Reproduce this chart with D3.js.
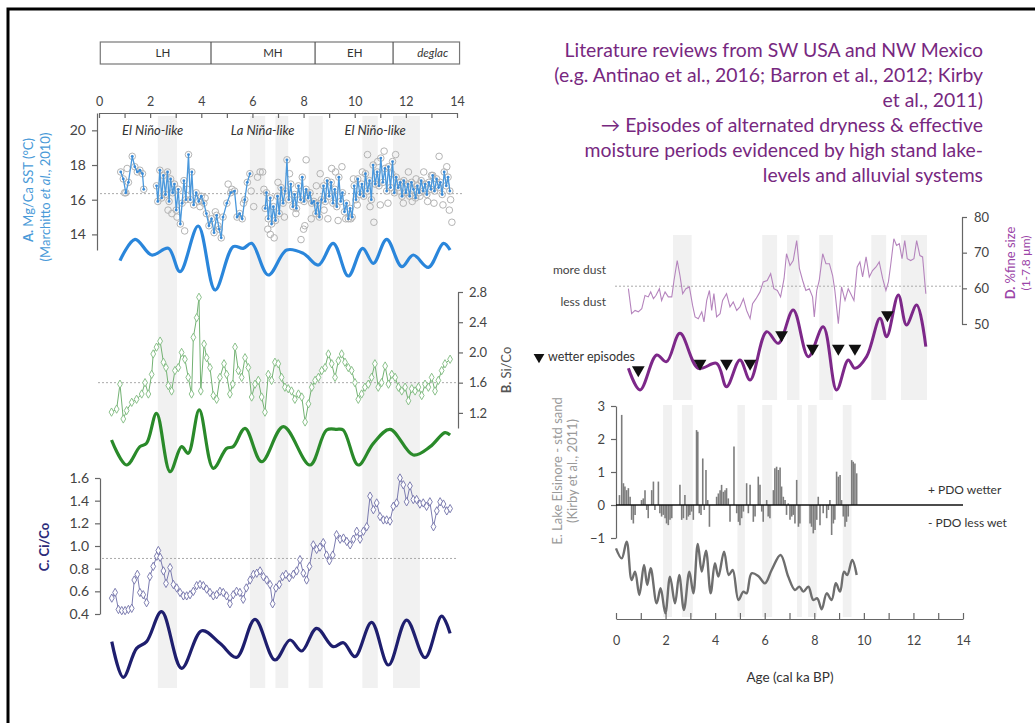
<!DOCTYPE html>
<html>
<head>
<meta charset="utf-8">
<script src="https://cdn.jsdelivr.net/npm/d3@7"></script>
<style>
  body { margin: 0; background: #fff; }
  svg { display: block; font-family: Lato, "Open Sans", sans-serif; }
</style>
</head>
<body>
<svg id="chart" width="1035" height="723"></svg>
<script>
// ---- data (age in cal ka BP, value) ----
// A. Mg/Ca SST, null breaks the line
const sstSeries = [
  [0.85,17.6],[0.95,17.2],[1.05,16.4],[1.15,17.0],[1.3,18.5],[1.4,17.9],[1.5,17.6],[1.6,17.7],[1.7,17.5],[1.75,16.6],null,
  [2.25,16.8],[2.3,15.9],[2.38,17.7],[2.45,16.1],[2.52,17.4],[2.6,16.3],[2.68,17.6],[2.74,15.9],[2.8,17.2],[2.88,16.4],
  [2.95,16.9],[3.02,15.4],[3.1,16.6],[3.18,14.6],[3.25,15.8],[3.32,17.1],[3.4,16.0],[3.5,18.6],[3.57,16.0],[3.63,17.6],
  [3.7,15.7],[3.8,16.4],[3.9,15.9],[4.0,16.2],[4.1,15.8],[4.2,15.2],[4.3,14.5],[4.4,14.9],[4.5,14.1],[4.6,15.1],
  [4.7,14.3],[4.78,13.8],[4.85,15.0],[5.0,15.8],[5.15,16.4],[5.3,16.5],[5.4,15.0],[5.5,15.2],[5.6,14.9],[5.7,16.0],
  [5.8,17.0],[5.9,17.5],null,
  [6.5,15.5],[6.55,16.4],[6.62,14.9],[6.7,16.1],[6.75,14.6],[6.82,15.6],[6.9,14.8],[6.98,16.2],[7.05,15.2],[7.12,16.7],
  [7.2,15.8],[7.28,16.5],[7.35,18.3],[7.42,16.0],[7.5,16.9],[7.58,15.6],[7.65,16.3],[7.72,15.5],[7.8,16.8],[7.88,16.0],
  [7.95,17.3],[8.02,15.9],[8.1,16.6],[8.18,16.1],[8.25,16.4],[8.32,15.8],[8.4,15.9],[8.48,15.2],[8.55,15.8],[8.62,15.0],
  [8.7,16.0],[8.78,16.8],[8.85,15.9],[8.92,17.1],[9.0,16.2],[9.08,17.0],[9.15,15.8],[9.22,16.6],[9.3,15.6],[9.38,17.3],
  [9.45,15.9],[9.52,16.4],[9.6,15.3],[9.68,15.8],[9.75,14.9],[9.82,15.5],[9.9,15.0],[9.98,16.8],[10.05,16.0],[10.12,17.2],
  [10.2,16.3],[10.28,16.9],[10.35,16.2],[10.42,17.5],[10.5,16.5],[10.58,17.1],[10.65,16.0],[10.72,18.0],[10.8,16.9],[10.88,17.6],
  [10.95,16.8],[11.02,18.4],[11.1,17.0],[11.18,17.8],[11.25,16.5],[11.32,17.9],[11.4,16.7],[11.48,18.2],[11.55,16.4],[11.62,17.3],
  [11.7,16.7],[11.78,17.0],[11.85,16.2],[11.92,17.1],[12.0,16.4],[12.08,16.9],[12.15,16.2],[12.22,17.0],[12.3,16.6],[12.38,16.1],
  [12.45,16.8],[12.52,16.4],[12.6,17.1],[12.68,16.5],[12.75,16.9],[12.82,16.3],[12.9,17.0],[12.98,16.6],[13.05,17.4],[13.12,16.5],
  [13.2,17.2],[13.28,16.7],[13.35,17.0],[13.42,16.3],[13.5,17.6],[13.58,16.8],[13.65,17.3],[13.72,16.5]
];
const sstReplicates = [
  [1.0,16.4],[1.1,17.8],[2.7,15.4],[2.85,15.2],[3.05,15.0],[3.35,14.2],[3.45,16.6],[3.95,15.6],[4.15,16.1],[4.55,15.3],
  [4.65,14.5],[5.05,16.9],[5.2,16.6],[5.65,15.8],[5.95,16.5],[6.05,15.6],[6.2,17.3],[6.3,17.6],[6.4,17.6],[6.45,16.6],
  [6.6,14.3],[6.7,14.0],[6.85,13.8],[7.0,17.0],[7.25,15.0],[7.45,17.5],[7.7,15.2],[7.9,13.7],[8.0,14.3],[8.05,14.5],
  [8.1,18.3],[8.3,14.9],[8.5,16.8],[8.65,17.5],[8.8,15.4],[8.95,14.9],[9.1,17.8],[9.25,17.6],[9.35,14.8],[9.5,17.9],
  [9.65,14.9],[9.85,14.9],[9.95,17.2],[10.1,15.7],[10.3,17.6],[10.5,18.6],[10.6,15.6],[10.75,14.7],[10.9,18.2],[11.0,15.7],
  [11.15,18.8],[11.3,15.8],[11.45,17.5],[11.6,18.6],[11.75,16.5],[11.9,15.8],[12.1,17.6],[12.25,15.9],[12.4,17.2],[12.55,16.2],
  [12.7,17.6],[12.85,15.9],[13.0,17.4],[13.1,15.8],[13.3,18.5],[13.45,15.7],[13.6,17.9],[13.7,15.4],[13.8,14.7],[13.75,16.0]
];
const sstFiltered = [
  [0.82,0.16],[1.41,1.44],[2.06,0.5],[2.71,0.9],[3.17,-0.5],[3.88,2.24],[4.54,-1.6],[5.25,1.0],[5.64,0.9],[5.97,1.2],
  [6.62,-0.7],[7.34,0.8],[7.99,0.6],[8.58,-0.1],[9.16,1.2],[9.75,-0.76],[10.31,0.9],[10.73,0.0],[11.25,1.44],[11.84,-0.2],
  [12.29,0.5],[12.88,-0.24],[13.47,1.2],[13.73,0.8]
];
const sstMean = 16.35;

// B. Si/Co
const siCoSeries = [
  [0.49,1.21],[0.69,1.25],[0.82,1.58],[0.95,1.12],[1.08,1.23],[1.28,1.34],[1.47,1.38],[1.67,1.45],[1.80,1.60],[1.93,1.45],
  [2.06,1.71],[2.12,1.98],[2.25,2.07],[2.39,2.15],[2.52,1.87],[2.62,1.80],[2.71,1.56],[2.84,1.49],[2.97,1.76],[3.10,1.80],
  [3.23,2.0],[3.36,1.91],[3.49,1.67],[3.62,1.45],[3.69,2.2],[3.82,2.46],[3.91,2.73],[3.98,1.49],[4.11,2.11],[4.21,1.93],
  [4.34,1.80],[4.47,1.43],[4.60,1.38],[4.73,1.67],[4.89,1.85],[4.99,1.71],[5.12,1.45],[5.23,1.58],[5.32,2.07],[5.45,1.76],
  [5.58,1.67],[5.71,1.93],[5.84,1.80],[5.97,1.41],[6.10,1.58],[6.23,1.63],[6.36,1.41],[6.49,1.21],[6.62,1.71],[6.75,1.63],
  [6.88,1.87],[7.01,1.85],[7.14,1.67],[7.27,1.54],[7.40,1.52],[7.53,1.49],[7.66,1.38],[7.80,1.45],[7.93,1.41],[8.06,1.08],
  [8.19,1.32],[8.32,1.54],[8.45,1.63],[8.58,1.67],[8.71,1.76],[8.84,1.80],[8.97,1.98],[9.10,1.85],[9.23,1.67],[9.36,1.89],
  [9.49,1.98],[9.62,1.87],[9.75,1.80],[9.88,1.76],[10.01,1.60],[10.14,1.38],[10.27,1.45],[10.40,1.54],[10.53,1.58],[10.66,1.67],
  [10.79,1.85],[10.92,1.54],[11.05,1.60],[11.19,1.82],[11.32,1.58],[11.45,1.71],[11.58,1.67],[11.71,1.54],[11.84,1.49],[11.97,1.54],
  [12.10,1.36],[12.23,1.52],[12.36,1.49],[12.49,1.54],[12.62,1.43],[12.75,1.58],[12.88,1.54],[13.01,1.67],[13.14,1.49],[13.27,1.63],
  [13.40,1.76],[13.53,1.85],[13.73,1.91]
];
const siCoFiltered = [
  [0.49,0.9],[1.08,0.15],[1.6,0.7],[1.86,0.8],[2.25,1.7],[2.78,-0.05],[3.23,0.7],[3.49,0.5],[3.92,1.8],[4.47,0.05],
  [4.99,0.65],[5.25,0.7],[5.71,1.25],[6.36,0.25],[7.21,1.3],[8.25,0.15],[8.9,1.2],[9.3,1.22],[9.55,1.2],[10.14,0.15],
  [10.73,0.8],[11.38,1.22],[12.29,0.45],[12.95,0.7],[13.53,1.12],[13.73,1.05]
];
const siCoMean = 1.6;

// C. Ci/Co
const ciCoSeries = [
  [0.50,0.54],[0.63,0.59],[0.76,0.44],[0.89,0.43],[1.02,0.43],[1.15,0.44],[1.28,0.45],[1.38,0.70],[1.50,0.75],[1.60,0.59],
  [1.73,0.57],[1.86,0.50],[1.99,0.73],[2.12,0.82],[2.26,0.91],[2.32,0.96],[2.39,0.90],[2.52,0.78],[2.62,0.67],[2.78,0.81],
  [2.91,0.66],[3.04,0.63],[3.17,0.59],[3.30,0.56],[3.43,0.56],[3.56,0.57],[3.69,0.60],[3.82,0.65],[3.95,0.66],[4.08,0.65],
  [4.21,0.62],[4.34,0.59],[4.47,0.56],[4.60,0.57],[4.73,0.60],[4.86,0.59],[4.99,0.56],[5.12,0.49],[5.25,0.57],[5.38,0.60],
  [5.51,0.59],[5.64,0.53],[5.76,0.63],[5.91,0.70],[6.04,0.75],[6.17,0.76],[6.30,0.78],[6.43,0.73],[6.56,0.70],[6.69,0.66],
  [6.79,0.49],[6.92,0.63],[7.05,0.66],[7.18,0.73],[7.31,0.75],[7.44,0.72],[7.60,0.75],[7.73,0.78],[7.86,0.88],[7.99,0.76],
  [8.12,0.70],[8.23,0.82],[8.38,1.01],[8.51,0.97],[8.64,0.99],[8.77,1.03],[8.90,0.92],[9.01,0.87],[9.14,0.92],[9.29,1.10],
  [9.43,1.06],[9.56,1.07],[9.69,1.04],[9.82,1.01],[9.95,1.06],[10.08,1.13],[10.21,1.06],[10.34,1.13],[10.47,1.17],[10.60,1.44],
  [10.73,1.32],[10.86,1.38],[10.99,1.26],[11.12,1.23],[11.25,1.23],[11.38,1.22],[11.51,1.35],[11.64,1.38],[11.77,1.60],[11.90,1.54],
  [12.03,1.39],[12.16,1.53],[12.29,1.41],[12.42,1.41],[12.55,1.37],[12.68,1.38],[12.81,1.35],[12.94,1.39],[13.08,1.17],[13.21,1.31],
  [13.34,1.39],[13.47,1.37],[13.60,1.31],[13.73,1.33]
];
const ciCoFiltered = [
  [0.50,1.55],[0.95,0.48],[1.47,1.35],[1.86,1.55],[2.45,2.45],[3.23,0.75],[4.02,1.88],[4.73,1.5],[5.38,1.08],[6.10,2.22],
  [6.88,1.0],[7.47,1.6],[7.93,1.27],[8.51,1.95],[9.16,1.4],[9.56,1.52],[10.01,1.1],[10.66,2.13],[11.32,0.85],[12.03,2.2],
  [12.75,1.07],[13.40,2.32],[13.73,1.8]
];
const ciCoMean = 0.89;

// D. % fine size
const fineSeries = [
  [0.50,59.9],[0.63,52.9],[0.77,53.8],[0.90,53.4],[1.04,54.3],[1.17,58.0],[1.30,57.6],[1.40,59.0],[1.51,57.1],[1.61,58.0],
  [1.75,59.9],[1.84,56.6],[1.98,59.0],[2.11,57.6],[2.25,57.6],[2.34,62.2],[2.47,67.8],[2.58,63.6],[2.69,58.5],[2.82,59.9],
  [2.96,60.4],[3.09,55.2],[3.19,52.0],[3.32,51.5],[3.46,53.4],[3.55,50.6],[3.66,56.6],[3.77,59.4],[3.86,53.8],[3.95,58.5],
  [4.06,52.0],[4.20,52.9],[4.30,56.6],[4.46,58.5],[4.60,54.8],[4.73,56.2],[4.87,53.8],[5.00,54.8],[5.14,57.1],[5.27,53.8],
  [5.41,51.5],[5.51,55.7],[5.65,57.1],[5.81,59.0],[5.94,61.8],[6.10,62.2],[6.24,64.1],[6.37,59.9],[6.51,59.4],[6.64,57.6],
  [6.78,62.7],[6.88,69.7],[7.02,66.4],[7.15,67.8],[7.29,73.4],[7.40,65.5],[7.53,62.2],[7.66,59.4],[7.80,59.9],[7.93,57.6],
  [8.00,52.0],[8.10,59.4],[8.20,62.2],[8.34,69.7],[8.47,66.9],[8.61,66.9],[8.74,63.6],[8.83,59.4],[8.97,50.1],[9.10,60.4],
  [9.24,56.6],[9.37,59.9],[9.47,58.5],[9.60,56.6],[9.73,66.0],[9.84,67.4],[9.95,63.2],[10.09,68.8],[10.22,63.2],[10.35,65.0],
  [10.49,66.0],[10.62,67.4],[10.76,62.7],[10.89,59.4],[10.99,61.8],[11.08,66.4],[11.21,73.9],[11.32,72.0],[11.43,72.5],[11.54,68.3],
  [11.65,73.4],[11.75,68.3],[11.89,67.8],[12.02,68.3],[12.13,73.4],[12.26,69.2],[12.37,68.8],[12.50,58.5]
];
const fineFiltered = [
  [0.50,0.95],[0.97,0.3],[1.64,1.35],[2.04,1.15],[2.58,2.0],[3.32,0.95],[4.06,1.1],[4.46,0.4],[5.00,1.2],[5.41,0.6],
  [6.08,2.05],[6.55,1.7],[7.15,2.7],[7.76,1.3],[8.36,2.2],[8.90,0.3],[9.37,1.2],[9.64,0.95],[10.11,1.3],[10.65,2.45],
  [10.92,1.9],[11.39,3.15],[11.72,2.25],[12.13,2.85],[12.50,1.6]
];
const fineMean = 60.6;
// wetter episodes, placed on the filtered curve scale
const wetterEpisodes = [[0.90,0.9],[3.39,1.1],[4.46,1.1],[5.41,1.1],[6.68,1.95],[7.93,1.55],[8.97,1.55],[9.64,1.55],[10.95,2.55]];

// E. Lake Elsinore std sand
const sandBars = [
  [0.14,0.30],[0.23,2.73],[0.30,0.66],[0.36,0.56],[0.43,0.45],[0.50,0.51],[0.57,0.25],[0.63,-0.45],[0.70,-0.56],[0.77,-0.30],
  [1.03,0.15],[1.10,0.20],[1.17,0.45],[1.24,-0.15],[1.30,-0.40],[1.44,0.45],[1.51,0.71],[1.57,-0.15],[1.71,0.71],[1.77,-0.25],
  [1.84,-0.35],[1.91,-0.30],[1.98,-0.40],[2.04,-0.56],[2.11,-0.61],[2.18,-0.45],[2.25,-0.40],[2.58,0.61],[2.65,-0.45],[2.72,-0.40],
  [2.78,0.30],[2.85,-0.45],[2.92,-0.35],[2.98,-0.30],[3.05,-0.20],[3.12,-0.45],[3.25,2.27],[3.30,2.22],[3.36,-0.25],[3.43,-0.30],
  [3.50,1.41],[3.56,-0.15],[3.63,1.06],[3.70,0.15],[3.77,-0.66],[4.06,0.25],[4.13,0.35],[4.20,0.45],[4.26,0.61],[4.33,0.40],
  [4.40,0.45],[4.46,0.51],[4.53,0.20],[4.60,-0.51],[4.76,1.77],[4.87,-0.25],[4.94,-0.51],[5.00,-0.61],[5.07,-0.40],[5.14,-0.20],
  [5.27,0.66],[5.34,-0.25],[5.41,0.61],[5.54,-0.51],[5.61,-0.35],[5.74,0.86],[5.81,0.61],[5.88,-0.20],[5.94,-0.51],[6.08,0.15],
  [6.14,-0.35],[6.21,-0.40],[6.35,0.45],[6.41,1.11],[6.48,1.16],[6.55,1.06],[6.62,1.14],[6.68,0.56],[6.75,0.25],[6.82,0.15],
  [6.88,-0.30],[6.95,0.05],[7.02,-0.45],[7.09,-0.35],[7.15,-0.30],[7.22,-0.56],[7.29,0.76],[7.36,-0.66],[7.42,-0.56],[7.83,-0.56],
  [7.89,-0.66],[7.96,-0.86],[8.03,-0.76],[8.10,-0.45],[8.16,0.25],[8.23,-0.61],[8.36,-0.25],[8.50,-0.40],[8.57,-0.15],[8.63,0.15],
  [8.70,-0.91],[8.77,-0.56],[8.83,-0.45],[8.90,1.01],[8.97,0.86],[9.04,0.91],[9.10,0.15],[9.17,-0.35],[9.24,-0.66],[9.30,-0.51],
  [9.37,-0.35],[9.51,1.36],[9.57,1.31],[9.64,1.26],[9.71,0.96]
];
const sandFiltered = [
  [0.00,2.25],[0.23,1.95],[0.43,2.45],[0.63,1.30],[0.77,1.55],[0.94,0.85],[1.13,1.75],[1.26,1.15],[1.40,1.65],[1.64,0.60],
  [1.80,1.05],[1.99,0.30],[2.18,1.40],[2.38,0.60],[2.55,1.45],[2.74,0.40],[2.96,1.55],[3.12,0.90],[3.30,2.38],[3.46,1.55],
  [3.63,2.18],[3.82,0.90],[3.99,1.80],[4.13,1.40],[4.36,2.15],[4.55,1.45],[4.71,1.60],[4.94,0.70],[5.14,0.95],[5.27,0.90],
  [5.47,1.50],[5.74,1.42],[6.01,1.20],[6.28,1.60],[6.64,2.05],[6.95,1.40],[7.22,1.00],[7.40,1.10],[7.56,0.95],[7.76,1.10],
  [7.96,0.70],[8.12,0.75],[8.30,0.42],[8.50,0.90],[8.70,0.70],[8.87,1.20],[9.04,0.95],[9.20,1.55],[9.33,1.45],[9.53,1.90],
  [9.71,1.45]
];

// grey bands (ka)
const bandsMain = [[2.3,3.05],[5.9,6.5],[6.9,7.4],[8.2,8.75],[10.3,10.9],[11.5,12.55]];
const bandsSand = [[1.9,2.26],[2.66,3.1],[4.9,5.2],[5.9,6.3],[7.3,7.5],[7.75,8.1],[9.15,9.5]];

// chronozones
const periodNames = ["LH", "MH", "EH", "deglac"];
const periodEdges = [0.05, 4.38, 8.45, 11.5, 14.1];
const periodLabelAge = [2.5, 6.8, 10.0, 13.05];
const enso = [["El Niño-like", 2.1], ["La Niña-like", 6.4], ["El Niño-like", 10.8]];

const noteLines = [
  "Literature reviews from SW USA and NW Mexico",
  "(e.g. Antinao et al., 2016; Barron et al., 2012; Kirby",
  "et al., 2011)",
  "\u2192 Episodes of alternated dryness & effective",
  "moisture periods evidenced by high stand lake-",
  "levels and alluvial systems"
];

// ---- scales ----
const svg = d3.select("#chart");
const xL = d3.scaleLinear().domain([0, 14]).range([99, 457]);
const xR = d3.scaleLinear().domain([0, 14]).range([616, 963]);

const yA = d3.scaleLinear().domain([13.1, 21]).range([250, 113]);
const yAf = d3.scaleLinear().domain([-2, 3]).range([296.7, 213.3]);
const yB = d3.scaleLinear().domain([1.0, 2.8]).range([428, 292]);
const yBf = d3.scaleLinear().domain([0, 2]).range([470, 403.3]);
const yC = d3.scaleLinear().domain([0.4, 1.6]).range([614, 478]);
const yCf = d3.scaleLinear().domain([0, 2]).range([693.3, 626.7]);
const yD = d3.scaleLinear().domain([50, 80]).range([324, 217]);
const yDf = d3.scaleLinear().domain([0, 3]).range([400, 300]);
const yE = d3.scaleLinear().domain([-1, 3]).range([538, 406]);
const yEf = d3.scaleLinear().domain([0, 2.5]).range([623.3, 540]);

const axisColor = "#666";
const tickText = "#444";

function styleAxis(g, size) {
    g.selectAll("path, line").attr("stroke", axisColor).attr("stroke-width", 1.2);
    g.selectAll("text").attr("fill", tickText).attr("font-size", size)
        .attr("font-family", "Lato, sans-serif");
}

// ---- shaded bands ----
svg.append("g").selectAll("rect").data(bandsMain).join("rect")
    .attr("x", d => xL(d[0])).attr("width", d => xL(d[1]) - xL(d[0]))
    .attr("y", 116).attr("height", 572)
    .attr("fill", "#f1f1f1");
svg.append("g").selectAll("rect").data(bandsMain).join("rect")
    .attr("x", d => xR(d[0])).attr("width", d => xR(d[1]) - xR(d[0]))
    .attr("y", 235).attr("height", 165)
    .attr("fill", "#f1f1f1");
svg.append("g").selectAll("rect").data(bandsSand).join("rect")
    .attr("x", d => xR(d[0])).attr("width", d => xR(d[1]) - xR(d[0]))
    .attr("y", 405).attr("height", 212)
    .attr("fill", "#f1f1f1");

// ---- slide frame ----
svg.append("path").attr("d", "M8,723V9H1035")
    .attr("fill", "none").attr("stroke", "#000").attr("stroke-width", 3);

// ---- chronozone header ----
const header = svg.append("g");
header.append("rect")
    .attr("x", xL(periodEdges[0])).attr("y", 42)
    .attr("width", xL(periodEdges[4]) - xL(periodEdges[0])).attr("height", 22)
    .attr("fill", "none").attr("stroke", "#777").attr("stroke-width", 1.2);
header.selectAll("line").data(periodEdges.slice(1, 4)).join("line")
    .attr("x1", d => xL(d)).attr("x2", d => xL(d)).attr("y1", 42).attr("y2", 64)
    .attr("stroke", "#555").attr("stroke-width", 1.2);
header.selectAll("text").data(periodNames).join("text")
    .attr("x", (d, i) => xL(periodLabelAge[i])).attr("y", 57)
    .attr("text-anchor", "middle").attr("font-size", 11.5).attr("fill", "#333")
    .attr("font-style", d => d === "deglac" ? "italic" : "normal")
    .text(d => d);

// ---- top age axis ----
const topAxis = svg.append("g").attr("transform", "translate(0,113)")
    .call(d3.axisTop(xL).ticks(14).tickSizeInner(-5).tickSizeOuter(0).tickPadding(7)
        .tickFormat(d => d % 2 === 0 ? d : ""));
styleAxis(topAxis, 12.5);

svg.selectAll(".enso").data(enso).join("text")
    .attr("x", d => xL(d[1])).attr("y", 135)
    .attr("text-anchor", "middle").attr("font-style", "italic")
    .attr("font-size", 13).attr("fill", "#333").text(d => d[0]);

// ---- line helpers ----
const lineL = (y, curve) => d3.line().defined(d => d !== null)
    .x(d => xL(d[0])).y(d => y(d[1])).curve(curve || d3.curveLinear);
const lineR = (y, curve) => d3.line()
    .x(d => xR(d[0])).y(d => y(d[1])).curve(curve || d3.curveLinear);
const smooth = d3.curveCatmullRom.alpha(0.5);

function meanLine(x1, x2, y) {
    svg.append("line").attr("x1", x1).attr("x2", x2).attr("y1", y).attr("y2", y)
        .attr("stroke", "#aaa").attr("stroke-width", 1).attr("stroke-dasharray", "2,2");
}

// ---- A. Mg/Ca SST ----
const axisA = svg.append("g").attr("transform", "translate(97,0)")
    .call(d3.axisLeft(yA).tickValues([14, 16, 18, 20]).tickSizeInner(5).tickSizeOuter(0).tickPadding(6));
styleAxis(axisA, 14);
meanLine(100, 462, yA(sstMean));

const sstPoints = sstSeries.filter(d => d !== null);
svg.append("g").selectAll("circle").data(sstPoints.concat(sstReplicates)).join("circle")
    .attr("cx", d => xL(d[0])).attr("cy", d => yA(d[1])).attr("r", 3.3)
    .attr("fill", "none").attr("stroke", "#b4b4b4").attr("stroke-width", 1);
svg.append("path").datum(sstSeries).attr("d", lineL(yA))
    .attr("fill", "none").attr("stroke", "#4a98dc").attr("stroke-width", 1.3);
svg.append("g").selectAll("circle").data(sstPoints).join("circle")
    .attr("cx", d => xL(d[0])).attr("cy", d => yA(d[1])).attr("r", 1.4)
    .attr("fill", "#3b8bd6");
svg.append("path").datum(sstFiltered).attr("d", lineL(yAf, smooth))
    .attr("fill", "none").attr("stroke", "#2a86db").attr("stroke-width", 3.2);

svg.append("text")
    .attr("transform", `translate(33,${190}) rotate(-90)`)
    .attr("text-anchor", "middle").attr("font-size", 13).attr("fill", "#4a9ad8")
    .call(t => {
        t.append("tspan").attr("font-weight", "bold").text("A. ");
        t.append("tspan").text("Mg/Ca SST (°C)");
    });
svg.append("text")
    .attr("transform", `translate(50,${197}) rotate(-90)`)
    .attr("text-anchor", "middle").attr("font-size", 13).attr("fill", "#4a9ad8")
    .call(t => {
        t.append("tspan").text("(Marchitto ");
        t.append("tspan").attr("font-style", "italic").text("et al.");
        t.append("tspan").text(", 2010)");
    });

// ---- B. Si/Co ----
const axisB = svg.append("g").attr("transform", "translate(458,0)")
    .call(d3.axisRight(yB).tickValues([1.2, 1.6, 2.0, 2.4, 2.8]).tickSizeInner(5).tickSizeOuter(0)
        .tickPadding(6).tickFormat(d3.format(".1f")));
styleAxis(axisB, 13);
meanLine(98, 458, yB(siCoMean));

svg.append("path").datum(siCoSeries).attr("d", lineL(yB))
    .attr("fill", "none").attr("stroke", "#73b273").attr("stroke-width", 1);
svg.append("g").selectAll("path").data(siCoSeries).join("path")
    .attr("transform", d => `translate(${xL(d[0])},${yB(d[1])})`)
    .attr("d", d3.symbol(d3.symbolDiamond, 20))
    .attr("fill", "#fff").attr("stroke", "#7fba7f").attr("stroke-width", 0.9);
svg.append("path").datum(siCoFiltered).attr("d", lineL(yBf, smooth))
    .attr("fill", "none").attr("stroke", "#2a8a2a").attr("stroke-width", 3.2);

svg.append("text")
    .attr("transform", "translate(511,370) rotate(-90)")
    .attr("text-anchor", "middle").attr("font-size", 13).attr("fill", "#555")
    .call(t => {
        t.append("tspan").attr("font-weight", "bold").text("B. ");
        t.append("tspan").text("Si/Co");
    });

// ---- C. Ci/Co ----
const axisC = svg.append("g").attr("transform", "translate(100,0)")
    .call(d3.axisLeft(yC).tickValues([0.4, 0.6, 0.8, 1.0, 1.2, 1.4, 1.6]).tickSizeInner(5).tickSizeOuter(0)
        .tickPadding(6).tickFormat(d3.format(".1f")));
styleAxis(axisC, 14);
meanLine(102, 457, yC(ciCoMean));

svg.append("path").datum(ciCoSeries).attr("d", lineL(yC))
    .attr("fill", "none").attr("stroke", "#7b7bb0").attr("stroke-width", 1);
svg.append("g").selectAll("path").data(ciCoSeries).join("path")
    .attr("transform", d => `translate(${xL(d[0])},${yC(d[1])})`)
    .attr("d", d3.symbol(d3.symbolDiamond, 20))
    .attr("fill", "#fff").attr("stroke", "#7070a8").attr("stroke-width", 0.9);
svg.append("path").datum(ciCoFiltered).attr("d", lineL(yCf, smooth))
    .attr("fill", "none").attr("stroke", "#1e1e6e").attr("stroke-width", 3.2);

svg.append("text")
    .attr("transform", "translate(49,547) rotate(-90)")
    .attr("text-anchor", "middle").attr("font-size", 13).attr("fill", "#2b2b7a")
    .attr("font-weight", "bold").text("C. Ci/Co");

// ---- note text ----
svg.append("g").selectAll("text").data(noteLines).join("text")
    .attr("x", 983).attr("y", (d, i) => 57 + i * 25)
    .attr("text-anchor", "end").attr("font-size", 19.4).attr("fill", "#77287f")
    .text(d => d);

// ---- D. % fine size ----
const axisD = svg.append("g").attr("transform", "translate(962,0)")
    .call(d3.axisRight(yD).tickValues([50, 60, 70, 80]).tickSizeInner(5).tickSizeOuter(0).tickPadding(7));
styleAxis(axisD, 13);
meanLine(615, 962, yD(fineMean));

svg.append("path").datum(fineSeries).attr("d", lineR(yD))
    .attr("fill", "none").attr("stroke", "#b584bd").attr("stroke-width", 1.1);
svg.append("path").datum(fineFiltered).attr("d", lineR(yDf, smooth))
    .attr("fill", "none").attr("stroke", "#7d2889").attr("stroke-width", 3);

const tri = d3.symbol(d3.symbolTriangle, 70);
svg.append("g").selectAll("path").data(wetterEpisodes).join("path")
    .attr("transform", d => `translate(${xR(d[0])},${yDf(d[1])}) rotate(180)`)
    .attr("d", tri).attr("fill", "#111");

svg.append("text").attr("x", 606).attr("y", 274).attr("text-anchor", "end")
    .attr("font-size", 12).attr("fill", "#444").text("more dust");
svg.append("text").attr("x", 606).attr("y", 306).attr("text-anchor", "end")
    .attr("font-size", 12).attr("fill", "#444").text("less dust");
svg.append("path").attr("transform", "translate(539,357) rotate(180)")
    .attr("d", d3.symbol(d3.symbolTriangle, 50)).attr("fill", "#111");
svg.append("text").attr("x", 548).attr("y", 361)
    .attr("font-size", 12.5).attr("fill", "#333").text("wetter episodes");

svg.append("text")
    .attr("transform", "translate(1015,263) rotate(-90)")
    .attr("text-anchor", "middle").attr("font-size", 13).attr("fill", "#9b45a8")
    .call(t => {
        t.append("tspan").attr("font-weight", "bold").text("D. ");
        t.append("tspan").text("%fine size");
    });
svg.append("text")
    .attr("transform", "translate(1030,263) rotate(-90)")
    .attr("text-anchor", "middle").attr("font-size", 12).attr("fill", "#9b45a8")
    .text("(1-7.8 µm)");

// ---- E. Lake Elsinore ----
const axisE = svg.append("g").attr("transform", "translate(616,0)")
    .call(d3.axisLeft(yE).tickValues([-1, 0, 1, 2, 3]).tickSizeInner(5).tickSizeOuter(0)
        .tickPadding(6).tickFormat(d3.format("d")));
styleAxis(axisE, 13);

svg.append("g").selectAll("line").data(sandBars).join("line")
    .attr("x1", d => xR(d[0])).attr("x2", d => xR(d[0]))
    .attr("y1", yE(0)).attr("y2", d => yE(d[1]))
    .attr("stroke", "#7d7d7d").attr("stroke-width", 1.6);
svg.append("line")
    .attr("x1", xR(0)).attr("x2", xR(14)).attr("y1", yE(0)).attr("y2", yE(0))
    .attr("stroke", "#111").attr("stroke-width", 1.3);
svg.append("path").datum(sandFiltered).attr("d", lineR(yEf, smooth))
    .attr("fill", "none").attr("stroke", "#6e6e6e").attr("stroke-width", 2.4);

svg.append("text").attr("x", 928).attr("y", 494)
    .attr("font-size", 12).attr("fill", "#333").text("+ PDO wetter");
svg.append("text").attr("x", 928).attr("y", 527)
    .attr("font-size", 12).attr("fill", "#333").text("- PDO less wet");

svg.append("text")
    .attr("transform", "translate(562,471) rotate(-90)")
    .attr("text-anchor", "middle").attr("font-size", 13).attr("fill", "#9a9a9a")
    .text("E. Lake Elsinore - std sand");
svg.append("text")
    .attr("transform", "translate(577,471) rotate(-90)")
    .attr("text-anchor", "middle").attr("font-size", 13).attr("fill", "#9a9a9a")
    .text("(Kirby et al., 2011)");

// ---- bottom age axis ----
const bottomAxis = svg.append("g").attr("transform", "translate(0,619)")
    .call(d3.axisBottom(xR).ticks(14).tickSizeInner(-6).tickSizeOuter(0).tickPadding(17)
        .tickFormat(d => d % 2 === 0 ? d : ""));
styleAxis(bottomAxis, 12.5);

svg.append("text").attr("x", 790).attr("y", 682).attr("text-anchor", "middle")
    .attr("font-size", 13.5).attr("fill", "#333").text("Age (cal ka BP)");
</script>
</body>
</html>
